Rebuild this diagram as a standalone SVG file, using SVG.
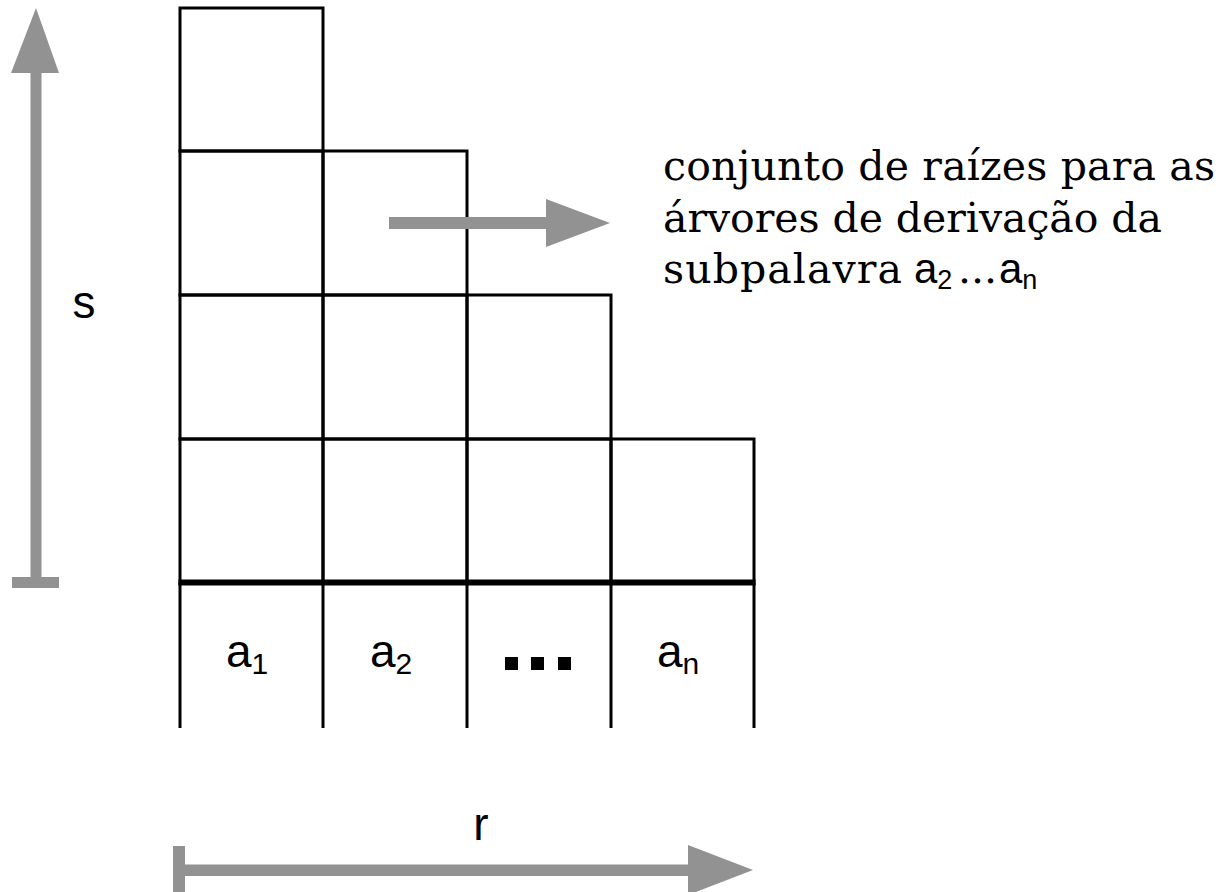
<svg xmlns="http://www.w3.org/2000/svg" width="1223" height="892" viewBox="0 0 1223 892">
<style>
.cell{fill:none;stroke:#000;stroke-width:3}
.ln{stroke:#000;stroke-width:3;fill:none}
.thick{stroke:#000;stroke-width:6}
.gray{fill:#929292}
.sans{font-family:"Liberation Sans",Arial,sans-serif;fill:#000}
.serif{font-family:"DejaVu Serif","Liberation Serif",serif;fill:#000}
</style>
<rect width="1223" height="892" fill="#fff"/>
<g id="grid">
  <g id="cell-r0-c0"><rect class="cell" x="180" y="8" width="143" height="143"/></g>
  <g id="cell-r1-c0"><rect class="cell" x="180" y="151" width="143" height="144"/></g>
  <g id="cell-r1-c1"><rect class="cell" x="323" y="151" width="144" height="144"/></g>
  <g id="cell-r2-c0"><rect class="cell" x="180" y="295" width="143" height="144"/></g>
  <g id="cell-r2-c1"><rect class="cell" x="323" y="295" width="144" height="144"/></g>
  <g id="cell-r2-c2"><rect class="cell" x="467" y="295" width="144" height="144"/></g>
  <g id="cell-r3-c0"><rect class="cell" x="180" y="439" width="143" height="144"/></g>
  <g id="cell-r3-c1"><rect class="cell" x="323" y="439" width="144" height="144"/></g>
  <g id="cell-r3-c2"><rect class="cell" x="467" y="439" width="144" height="144"/></g>
  <g id="cell-r3-c3"><rect class="cell" x="611" y="439" width="143" height="144"/></g>
</g>
<g id="word-row">
  <line class="ln" x1="180" y1="583" x2="180" y2="728"/>
  <line class="ln" x1="323" y1="583" x2="323" y2="728"/>
  <line class="ln" x1="467" y1="583" x2="467" y2="728"/>
  <line class="ln" x1="611" y1="583" x2="611" y2="728"/>
  <line class="ln" x1="754" y1="583" x2="754" y2="728"/>
  <line class="thick" x1="178.5" y1="582.5" x2="755.5" y2="582.5"/>
  <g id="sym-a1"><text class="sans" x="226" y="667" font-size="46">a<tspan font-size="30" dy="7">1</tspan></text></g>
  <g id="sym-a2"><text class="sans" x="370" y="667" font-size="46">a<tspan font-size="30" dy="7">2</tspan></text></g>
  <g id="sym-dots">
    <rect x="505" y="657" width="13" height="13" fill="#000"/>
    <rect x="531" y="657" width="13" height="13" fill="#000"/>
    <rect x="558" y="657" width="13" height="13" fill="#000"/>
  </g>
  <g id="sym-an"><text class="sans" x="657" y="667" font-size="46">a<tspan font-size="30" dy="7">n</tspan></text></g>
</g>
<g id="label-s"><text class="sans" x="84" y="318" font-size="46" text-anchor="middle">s</text></g>
<g id="label-r"><text class="sans" x="481" y="840" font-size="46" text-anchor="middle">r</text></g>
<g id="note">
  <text class="serif" x="663" y="180" font-size="41" textLength="552" lengthAdjust="spacing">conjunto de raízes para as</text>
  <text class="serif" x="663" y="232" font-size="41" textLength="499" lengthAdjust="spacing">árvores de derivação da</text>
  <text class="serif" x="663" y="283" font-size="41"><tspan textLength="239" lengthAdjust="spacing">subpalavra</tspan><tspan class="sans" x="914" font-size="42">a</tspan><tspan class="sans" font-size="27" dy="6">2</tspan><tspan x="958" dy="-6">...</tspan><tspan class="sans" x="999" font-size="42">a</tspan><tspan class="sans" font-size="27" dy="6">n</tspan></text>
</g>
<g id="connectors">
  <g id="arrow-s">
    <rect class="gray" x="30.5" y="72" width="11" height="511"/>
    <polygon class="gray" points="36,8 11,73 59,73"/>
    <rect class="gray" x="12" y="577" width="47" height="11"/>
  </g>
  <g id="arrow-note">
    <rect class="gray" x="389" y="217" width="158" height="12"/>
    <polygon class="gray" points="546,199 610,223 546,247"/>
  </g>
  <g id="arrow-r">
    <rect class="gray" x="173" y="846" width="12" height="49"/>
    <rect class="gray" x="184" y="864.5" width="505" height="11.5"/>
    <polygon class="gray" points="688,845 753,870 688,895"/>
  </g>
</g>
</svg>
